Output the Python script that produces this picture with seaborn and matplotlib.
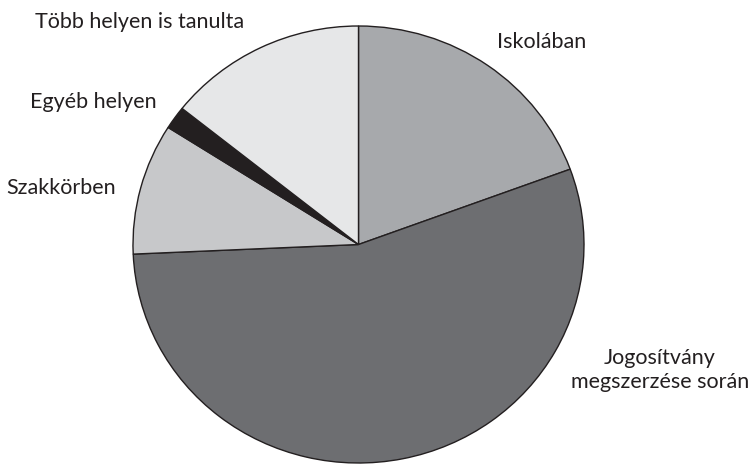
import matplotlib
matplotlib.use("Agg")
import matplotlib.pyplot as plt
import seaborn as sns

categories = ["Iskolában", "Jogosítvány\nmegszerzése során", "Szakkörben",
              "Egyéb helyen", "Több helyen is tanulta"]
values = [19.4, 54.9, 9.7, 1.7, 14.3]
colors = ["#a7a9ac", "#6d6e71", "#c7c8ca", "#231f20", "#e6e7e8"]

sns.set_theme(style="white")
plt.rcParams["font.family"] = ["Lato", "DejaVu Sans"]

W, H = 752, 465
fig = plt.figure(figsize=(W / 100, H / 100), dpi=100)
fig.patch.set_facecolor("white")

cx, cy = 358.5, 244.5
rx, ry = 225.5, 218.5
ax = fig.add_axes([(cx - rx) / W, (H - cy - ry) / H, 2 * rx / W, 2 * ry / H])
ax.pie(values, colors=colors, startangle=90, counterclock=False,
       wedgeprops=dict(edgecolor="#231f20", linewidth=1.0))
ax.set_aspect("auto")
ax.set_xlim(-1, 1)
ax.set_ylim(-1, 1)
ax.axis("off")

label_pos = {
    "Iskolában": (542, 42, "center"),
    "Jogosítvány\nmegszerzése során": (749, 370, "right"),
    "Szakkörben": (61, 188, "center"),
    "Egyéb helyen": (93, 102, "center"),
    "Több helyen is tanulta": (140, 22, "center"),
}
for cat in categories:
    x, y, ha = label_pos[cat]
    fig.text(x / W, 1 - y / H, cat, ha=ha, va="center", multialignment="center",
             fontsize=15.5, color="#231f20", linespacing=1.3)

fig.savefig("out.png", dpi=100)
